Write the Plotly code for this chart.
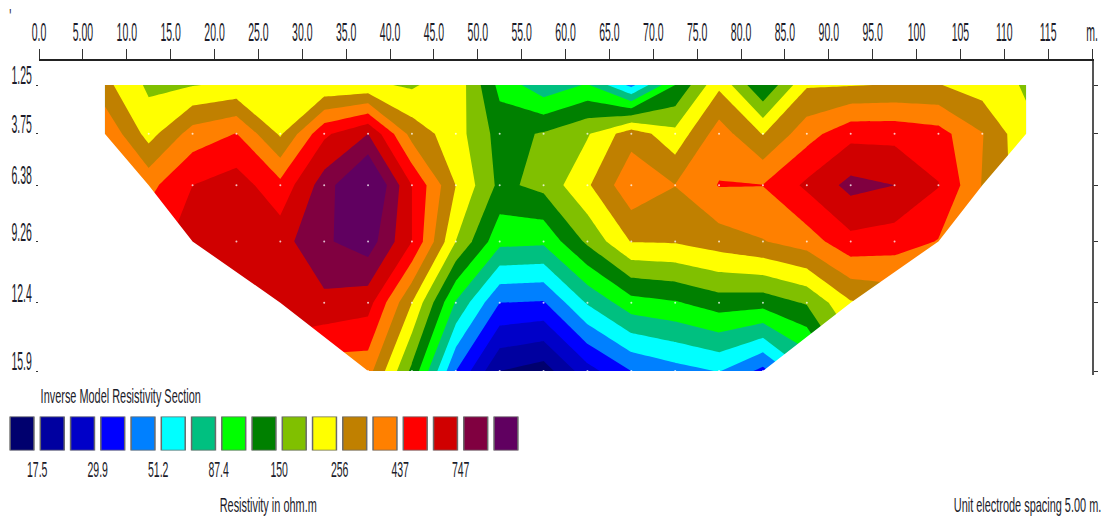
import numpy as np
import plotly.graph_objects as go

# Electrode-position columns (m) and model depths (m)
POSITIONS = [7.5 + 5 * i for i in range(22)]
DEPTHS = [1.25, 3.75, 6.38, 9.26, 12.4, 15.9]
DEPTH_LABELS = ["1.25", "3.75", "6.38", "9.26", "12.4", "15.9"]
# Section limits of each depth row
ROW_LEFT = [7.5, 7.5, 12.5, 17.5, 27.5, 37.5]
ROW_RIGHT = [112.5, 112.5, 107.5, 102.5, 92.5, 82.5]

# Values, as a position on the 17-step colour scale
BAND_125 = [11.3, 9.8, 9.95, 10.2, 10.3, 10.13, 10.2, 9.85, 10.7, 7.7, 6.3, 7.1, 4.7, 8.0, 10.8, 8.0, 10.9, 10.95, 11.05, 11.05, 10.5, 9.9]
BAND_375 = [12.9, 10.6, 12.44, 13.03, 10.85, 13.8, 15.0, 11.6, 10.45, 8.6, 9.1, 9.9, 11.6, 10.3, 12.5, 10.95, 12.6, 13.7, 13.7, 13.4, 12.05, 10.2]
BAND_638 = [12.3, 12.7, 14.0, 14.5, 13.3, 15.5, 17.5, 14.0, 11.0, 8.75, 9.3, 10.85, 12.75, 12.02, 13.05, 13.02, 14.2, 15.3, 15.0, 14.05, 11.95, 10.4]
BAND_926 = [13.5, 13.7, 14.3, 14.7, 14.6, 15.85, 16.55, 14.0, 10.0, 7.3, 7.2, 9.2, 11.05, 11.1, 11.5, 11.95, 12.5, 13.7, 13.5, 12.95, 11.5, 10.0]
BAND_124 = [14.0, 14.0, 14.3, 14.5, 14.8, 14.75, 14.4, 11.0, 6.9, 4.0, 3.9, 6.1, 7.6, 7.9, 8.5, 8.4, 9.1, 10.9, 11.3, 11.0, 10.0, 9.5]
BAND_159 = [14.0, 14.0, 14.3, 14.3, 13.0, 12.4, 12.4, 8.75, 4.0, 1.0, 0.5, 2.6, 4.0, 4.6, 5.05, 3.7, 6.0, 9.0, 9.5, 9.5, 9.0, 9.0]

LEGEND_COLORS = ["#00006e", "#0000a0", "#0000c8", "#0000ff", "#0080ff", "#00ffff", "#00c080", "#00ff00",
                 "#008000", "#80c000", "#ffff00", "#c08000", "#ff8000", "#ff0000", "#d00000", "#800040", "#600060"]
LEGEND_VALUES = ["17.5", "29.9", "51.2", "87.4", "150", "256", "437", "747"]
X_TICK_VALUES = [5 * i for i in range(25)]
X_TICK_TEXT = ["0.0", "5.00", "10.0", "15.0", "20.0", "25.0", "30.0", "35.0", "40.0", "45.0", "50.0", "55.0", "60.0",
               "65.0", "70.0", "75.0", "80.0", "85.0", "90.0", "95.0", "100", "105", "110", "115", "m."]

FONT = "Liberation Sans"
INK = "#1c1c2a"
W, H = 1103, 519


def px_x(a, b):
    return [a / W, b / W]


def px_y(top, bottom):
    return [1 - bottom / H, 1 - top / H]


RATIO = (747 / 17.5) ** (1 / 14)
bands = np.array([BAND_125, BAND_375, BAND_638, BAND_926, BAND_124, BAND_159])
resistivity = 17.5 * RATIO ** (bands - 1)
log_rho = np.log10(resistivity)
step = np.log10(RATIO)
first = np.log10(17.5)

colorscale = [[k / 16, c] for k, c in enumerate(LEGEND_COLORS)]

fig = go.Figure()
fig.add_trace(go.Contour(
    x=POSITIONS, y=DEPTHS, z=log_rho, autocontour=False,
    contours=dict(start=first, end=first + 15 * step, size=step, coloring="fill", showlines=False),
    line=dict(width=0, smoothing=0), colorscale=colorscale, showscale=False,
    customdata=resistivity, hovertemplate="%{x} m, %{y} m: %{customdata:.1f} ohm.m<extra></extra>",
))

# Node dots
dot_x, dot_y = [], []
for j, d in enumerate(DEPTHS[1:], start=1):
    for p in POSITIONS:
        if ROW_LEFT[j] < p < ROW_RIGHT[j] or (j == 5 and ROW_LEFT[j] <= p <= ROW_RIGHT[j]):
            dot_x.append(p)
            dot_y.append(d)
fig.add_trace(go.Scatter(x=dot_x, y=dot_y, mode="markers", hoverinfo="skip",
                         marker=dict(color="white", size=2, opacity=0.75, line=dict(width=0))))

# Right-hand depth axis
fig.add_trace(go.Scatter(x=[120] * len(DEPTHS), y=DEPTHS, yaxis="y3", mode="markers", hoverinfo="skip",
                         marker=dict(opacity=0, size=1)))

# Colour legend
fig.add_trace(go.Bar(x=list(range(len(LEGEND_COLORS))), y=[1] * len(LEGEND_COLORS), xaxis="x2", yaxis="y2",
                     width=0.79, marker=dict(color=LEGEND_COLORS, line=dict(color="#6a6a6a", width=1.5)),
                     hoverinfo="skip"))

# White masks outside the trapezoid, built from the row limits
def polygon(points):
    return "M " + " L ".join(f"{a},{b}" for a, b in points) + " Z"


xmin, xmax, dmax = 0, 120, 16.1
left_pts = list(zip(ROW_LEFT, DEPTHS))
right_pts = list(zip(ROW_RIGHT, DEPTHS))
shapes = [
    dict(type="path", layer="above", fillcolor="white", line=dict(width=0), xref="x", yref="y",
         path=polygon(left_pts + [(ROW_LEFT[-1], dmax), (xmin + 0.1, dmax), (xmin + 0.1, DEPTHS[0])])),
    dict(type="path", layer="above", fillcolor="white", line=dict(width=0), xref="x", yref="y",
         path=polygon(right_pts + [(ROW_RIGHT[-1], dmax), (xmax - 0.3, dmax), (xmax - 0.3, DEPTHS[0])])),
]

ann = dict(xref="paper", yref="paper", showarrow=False, xanchor="center", yanchor="middle",
           font=dict(family=FONT, size=14, color=INK))
annotations = [
    dict(text="Inverse Model Resistivity Section", x=120 / W, y=1 - 396 / H, **ann),
    dict(text="Resistivity in ohm.m", x=268 / W, y=1 - 505 / H, **ann),
    dict(text="Unit electrode spacing 5.00 m.", x=1027 / W, y=1 - 505 / H, **ann),
    dict(text="'", x=10 / W, y=1 - 16 / H, **ann),
]

fig.update_layout(
    width=W, height=H, autosize=False, margin=dict(l=0, r=0, t=0, b=0),
    paper_bgcolor="white", plot_bgcolor="white", showlegend=False,
    shapes=shapes, annotations=annotations,
    xaxis=dict(domain=px_x(39, 1092), range=[xmin, xmax], side="top", tickmode="array", automargin=False,
               tickvals=X_TICK_VALUES, ticktext=X_TICK_TEXT, ticks="outside", ticklen=10, tickwidth=1,
               tickcolor="#333", showgrid=False, zeroline=False, showline=True, linecolor="#222", linewidth=2,
               ticklabelstandoff=6, tickangle=0, tickfont=dict(family=FONT, size=14, color=INK), anchor="y"),
    yaxis=dict(domain=px_y(60.6, 375), range=[dmax, 0], tickmode="array", tickvals=DEPTHS, ticktext=DEPTH_LABELS,
               ticks="outside", ticklen=2, tickcolor="#333", showgrid=False, zeroline=False, showline=False,
               automargin=False, ticklabelposition="outside top",
               tickfont=dict(family=FONT, size=14, color=INK), anchor="x"),
    yaxis3=dict(domain=px_y(60.6, 375), range=[dmax, 0], overlaying="y", side="right", anchor="x", automargin=False,
                tickmode="array", tickvals=DEPTHS, ticks="outside", ticklen=4, tickcolor="#333",
                showticklabels=False, showgrid=False, zeroline=False, showline=True, linecolor="#555", linewidth=2),
    xaxis2=dict(domain=px_x(6.9, 521.1), range=[-0.5, 16.5], anchor="y2", tickmode="array", automargin=False,
                tickvals=[0.5 + 2 * i for i in range(len(LEGEND_VALUES))], ticktext=LEGEND_VALUES,
                ticks="", showgrid=False, zeroline=False, showline=False, ticklabelstandoff=9, tickangle=0,
                tickfont=dict(family=FONT, size=14, color=INK)),
    yaxis2=dict(domain=px_y(416.5, 450.5), range=[0, 1], anchor="x2", visible=False, automargin=False),
)

# Remove the page margin; the reference's lettering is squeezed sideways and tall, so stretch the real text the same way
STRETCH = """
document.body.style.margin = '0';
function stretch(sel, sx, sy) {
  document.querySelectorAll(sel).forEach(function (t) {
    var b = t.getBBox(), cx = b.x + b.width / 2, cy = b.y + b.height / 2;
    var old = t.getAttribute('transform') || '';
    t.setAttribute('transform', old + ' translate(' + cx + ',' + cy + ') scale(' + sx + ',' + sy + ') translate(' + (-cx) + ',' + (-cy) + ')');
  });
}
stretch('.xtick text, .ytick text', 0.75, 1.9);
stretch('.x2tick text', 0.75, 1.6);
stretch('.annotation-text', 0.78, 1.4);
"""

fig.write_html("out.html", post_script=STRETCH, config={"displayModeBar": False})
